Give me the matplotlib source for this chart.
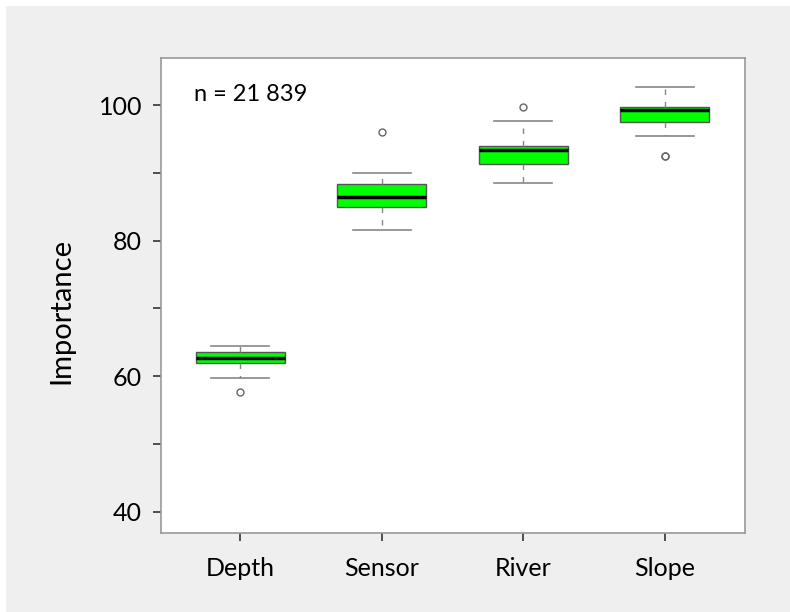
import matplotlib.pyplot as plt
from matplotlib.patches import Rectangle

plt.rcParams['font.family'] = ['Lato', 'DejaVu Sans']

# box statistics
labels = ['Depth', 'Sensor', 'River', 'Slope']
whislo = [59.7, 81.5, 88.5, 95.5]
q1 = [62.0, 85.0, 91.3, 97.5]
med = [62.6, 86.5, 93.3, 99.3]
q3 = [63.6, 88.4, 93.9, 99.75]
whishi = [64.4, 90.0, 97.7, 102.6]
fliers = [[57.6], [96.0], [99.75], [92.5, 92.45]]

stats = []
for i in range(len(labels)):
    stats.append({'label': labels[i], 'whislo': whislo[i], 'q1': q1[i], 'med': med[i],
                  'q3': q3[i], 'whishi': whishi[i], 'fliers': fliers[i]})

fig = plt.figure(figsize=(7.9, 6.12), dpi=100, facecolor='white')
fig.patches.append(Rectangle((6 / 790, 0), 1, 1 - 6 / 612, transform=fig.transFigure,
                             facecolor='#efefef', edgecolor='none', zorder=-10))
ax = fig.add_axes([0.2044, 0.1286, 0.7386, 0.7761])
ax.set_facecolor('white')

ax.bxp(stats, positions=[1, 2, 3, 4], widths=0.63, patch_artist=True,
       boxprops=dict(facecolor='#00ff00', edgecolor='#555555', linewidth=1.0),
       medianprops=dict(color='black', linewidth=2.5),
       whiskerprops=dict(color='#888888', linestyle=(0, (4, 5)), linewidth=1.0),
       capprops=dict(color='#888888', linewidth=1.2),
       capwidths=0.41,
       flierprops=dict(marker='o', markersize=5, markerfacecolor='none',
                       markeredgecolor='#666666', markeredgewidth=1.0))

ax.set_xlim(0.443, 4.567)
ax.set_ylim(36.8, 106.9)
ax.set_yticks([40, 60, 80, 100])
ax.set_yticks([50, 70, 90], minor=True)
ax.tick_params(axis='y', which='both', length=6, width=1.2, color='#333333',
               labelsize=18, pad=8)
ax.tick_params(axis='x', length=6, width=1.2, color='#333333', labelsize=18, pad=11)
for s in ax.spines.values():
    s.set_color('#999999')
    s.set_linewidth(1.2)

ax.set_ylabel('Importance', fontsize=21)
ax.yaxis.set_label_coords(-0.15, 0.468)
ax.text(0.673, 101.5, 'n = 21 839', fontsize=17, ha='left', va='center')

fig.savefig('out.png', dpi=100, facecolor=fig.get_facecolor())
